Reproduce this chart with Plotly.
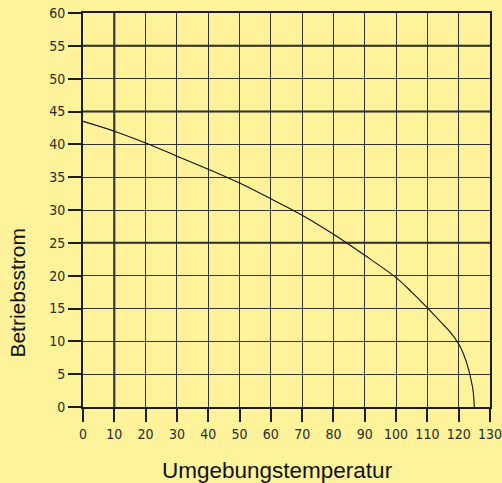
import plotly.graph_objects as go

# Ambient temperature (°C) and the corresponding permissible operating current
temperatur = [0, 10, 20, 30, 40, 50, 60, 70, 80, 90, 100, 105, 110, 115, 117.5, 120, 121.6, 123, 124, 124.6, 125]
strom = [43.5, 42.0, 40.2, 38.2, 36.2, 34.1, 31.7, 29.2, 26.3, 23.1, 19.7, 17.5, 15.1, 12.6, 11.3, 9.6, 8.0, 6.0, 4.0, 2.5, 0.0]

x_ticks = list(range(0, 131, 10))
y_ticks = list(range(0, 61, 5))

# Heavier reference lines of the grid
x_heavy = [10]
y_heavy = [25, 45, 55]

bg = "#FEF39A"
ink = "#1c1c1c"
tick_font = dict(family="Liberation Sans Narrow, DejaVu Sans Condensed, Arial Narrow, sans-serif",
                 size=14, color="#2a2a2a")

fig = go.Figure()
fig.add_trace(go.Scatter(
    x=temperatur, y=strom, mode="lines",
    line=dict(color="#111111", width=1.1, shape="spline", smoothing=1.0),
    hoverinfo="x+y", showlegend=False,
))

shapes = []
for xv in x_heavy:
    shapes.append(dict(type="line", xref="x", yref="y", x0=xv, x1=xv, y0=0, y1=60,
                       line=dict(color=ink, width=2), layer="below"))
for yv in y_heavy:
    shapes.append(dict(type="line", xref="x", yref="y", x0=0, x1=130, y0=yv, y1=yv,
                       line=dict(color=ink, width=2), layer="below"))

axis_common = dict(
    showgrid=True, gridcolor="#333333", gridwidth=1,
    zeroline=False,
    showline=True, linecolor=ink, linewidth=2, mirror=True,
    ticks="outside", ticklen=13, tickwidth=1.5, tickcolor=ink,
    tickfont=tick_font, ticklabelstandoff=0, ticklabeloverflow="allow",
    automargin=False, fixedrange=True,
)

fig.update_layout(
    width=502, height=483,
    margin=dict(l=83, r=12, t=13, b=76),
    paper_bgcolor=bg, plot_bgcolor=bg,
    shapes=shapes,
    xaxis=dict(range=[0, 130], tickvals=x_ticks, ticktext=[str(v) for v in x_ticks], **axis_common),
    yaxis=dict(range=[0, 60], tickvals=y_ticks, ticktext=[str(v) for v in y_ticks], **axis_common),
    annotations=[
        dict(text="Umgebungstemperatur", xref="paper", yref="paper",
             x=0.477, y=-0.162, xanchor="center", yanchor="middle", showarrow=False,
             font=dict(family="Liberation Sans, Arial, sans-serif", size=22.5, color="#111111")),
        dict(text="Betriebsstrom", xref="paper", yref="paper", textangle=-90,
             x=-0.161, y=0.2916, xanchor="center", yanchor="middle", showarrow=False,
             font=dict(family="Liberation Sans, Arial, sans-serif", size=21, color="#111111")),
    ],
)

fig.write_html("out.html")
